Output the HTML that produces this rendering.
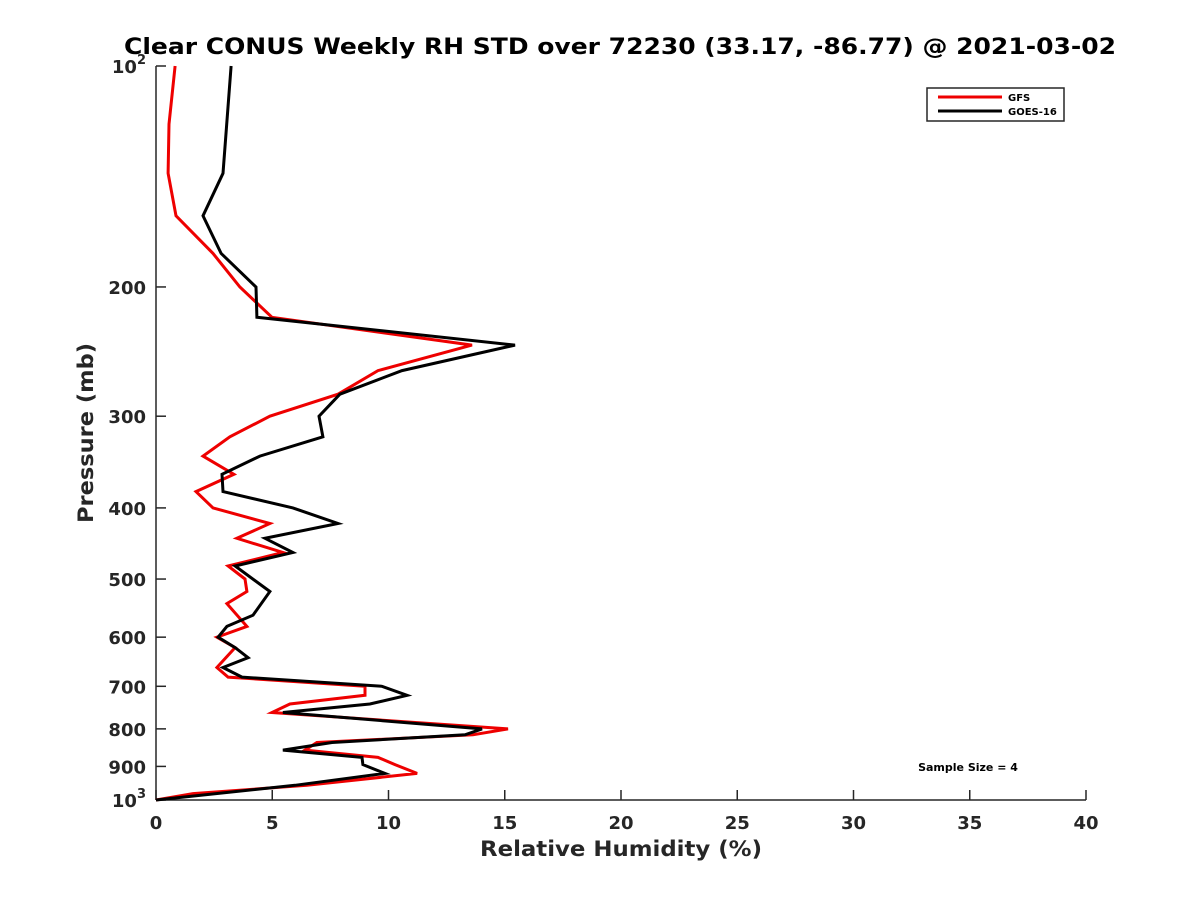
<!DOCTYPE html>
<html><head><meta charset="utf-8"><style>
body{margin:0;background:#fff}
svg text{font-family:"DejaVu Sans","Liberation Sans",sans-serif;font-weight:bold;fill:#262626}
</style></head><body>
<svg id="chart" width="1200" height="900" viewBox="0 0 1200 900" xmlns="http://www.w3.org/2000/svg">
<rect width="1200" height="900" fill="#fff"/>
<text x="620" y="54" font-size="22" text-anchor="middle" textLength="992" lengthAdjust="spacingAndGlyphs" style="fill:#000">Clear CONUS Weekly RH STD over 72230 (33.17, -86.77) @ 2021-03-02</text>
<g id="axes"></g>
<g id="series"></g>
<g>
<rect x="927" y="88" width="137" height="33" fill="#fff" stroke="#262626" stroke-width="1.5"/>
<line x1="938" y1="97" x2="1002" y2="97" stroke="#e00" stroke-width="3"/>
<text x="1008" y="101" font-size="10" style="fill:#000">GFS</text>
<line x1="938" y1="111" x2="1002" y2="111" stroke="#000" stroke-width="3"/>
<text x="1008" y="115" font-size="10" style="fill:#000">GOES-16</text>
</g>
<text x="968" y="771" font-size="11" text-anchor="middle" style="fill:#000">Sample Size = 4</text>
<text x="621" y="856" font-size="21" text-anchor="middle" textLength="282" lengthAdjust="spacingAndGlyphs">Relative Humidity (%)</text>
<text x="0" y="0" font-size="21" text-anchor="middle" textLength="180" lengthAdjust="spacingAndGlyphs" transform="translate(93,433) rotate(-90)">Pressure (mb)</text>
</svg>
<script>
const xTicks=[0,5,10,15,20,25,30,35,40];
const yTicks=[200,300,400,500,600,700,800,900];
const gfsP=[100,120,140,160,180,200,220,240,260,280,300,320,340,360,380,400,420,440,460,480,500,520,540,580,600,620,660,680,700,720,740,760,800,815,835,855,875,895,920,955,980,1000];
const gfsRH=[0.82,0.56,0.52,0.86,2.45,3.61,4.99,13.59,9.55,7.83,4.90,3.18,2.02,3.35,1.72,2.45,4.90,3.48,5.46,3.10,3.83,3.91,3.05,3.91,2.62,3.40,2.62,3.10,8.99,8.99,5.76,4.99,15.14,13.63,6.92,6.41,9.55,10.28,11.23,6.49,1.59,0];
const goesP=[100,140,160,180,200,220,240,260,280,300,320,340,360,380,400,420,440,460,480,520,560,580,600,620,640,660,680,700,720,740,760,800,815,835,855,875,895,920,955,1000];
const goesRH=[3.23,2.88,2.02,2.80,4.30,4.34,15.44,10.58,7.91,7.01,7.18,4.47,2.84,2.88,5.89,7.83,4.69,5.89,3.40,4.90,4.17,3.05,2.67,3.40,3.96,2.88,3.70,9.72,10.80,9.20,5.46,14.02,13.29,7.57,5.46,8.86,8.90,9.85,5.98,0];
const X0=156,X1=1086,Y0=66,Y1=800;
const xs=v=>X0+(v/40)*(X1-X0);
const ys=p=>Y0+Math.log10(p/100)*(Y1-Y0);
const NS='http://www.w3.org/2000/svg';
function mk(t,a,parent){const e=document.createElementNS(NS,t);for(const k in a)e.setAttribute(k,a[k]);parent.appendChild(e);return e;}
const ax=document.getElementById('axes');
let l=mk('line',{x1:X0,y1:Y0,x2:X0,y2:Y1,stroke:'#262626','stroke-width':1.5},ax);


l=mk('line',{x1:X0,y1:Y1,x2:X1,y2:Y1,stroke:'#262626','stroke-width':1.5},ax);


xTicks.forEach(v=>{
 const x=xs(v);
 const t=mk('line',{x1:x,y1:Y1,x2:x,y2:Y1-10,stroke:'#262626','stroke-width':1.5},ax);
 
 
 const tx=mk('text',{x:x,y:Y1+29,'font-size':18,'text-anchor':'middle'},ax);
 tx.textContent=v;
 
 
});
[100].concat(yTicks,[1000]).forEach(p=>{
 const y=ys(p);
 const t=mk('line',{x1:X0,y1:y,x2:X0+10,y2:y,stroke:'#262626','stroke-width':1.5},ax);
 
 
 const tx=mk('text',{x:X0-10,y:y+7,'font-size':18,'text-anchor':'end'},ax);
 if(p===100||p===1000){
  tx.textContent='10';
  const s=mk('tspan',{dy:-9,'font-size':13},tx);s.textContent=p===100?'2':'3';
 } else tx.textContent=p;
 
 
});
const sg=document.getElementById('series');
function line(P,V,color,name){
 const pts=P.map((p,i)=>xs(V[i]).toFixed(1)+','+ys(p).toFixed(1)).join(' ');
 const e=mk('polyline',{points:pts,fill:'none',stroke:color,'stroke-width':3,'stroke-linejoin':'miter'},sg);
 
 
}
line(gfsP,gfsRH,'#e00','gfs-line');
line(goesP,goesRH,'#000','goes16-line');
</script>
</body></html>
